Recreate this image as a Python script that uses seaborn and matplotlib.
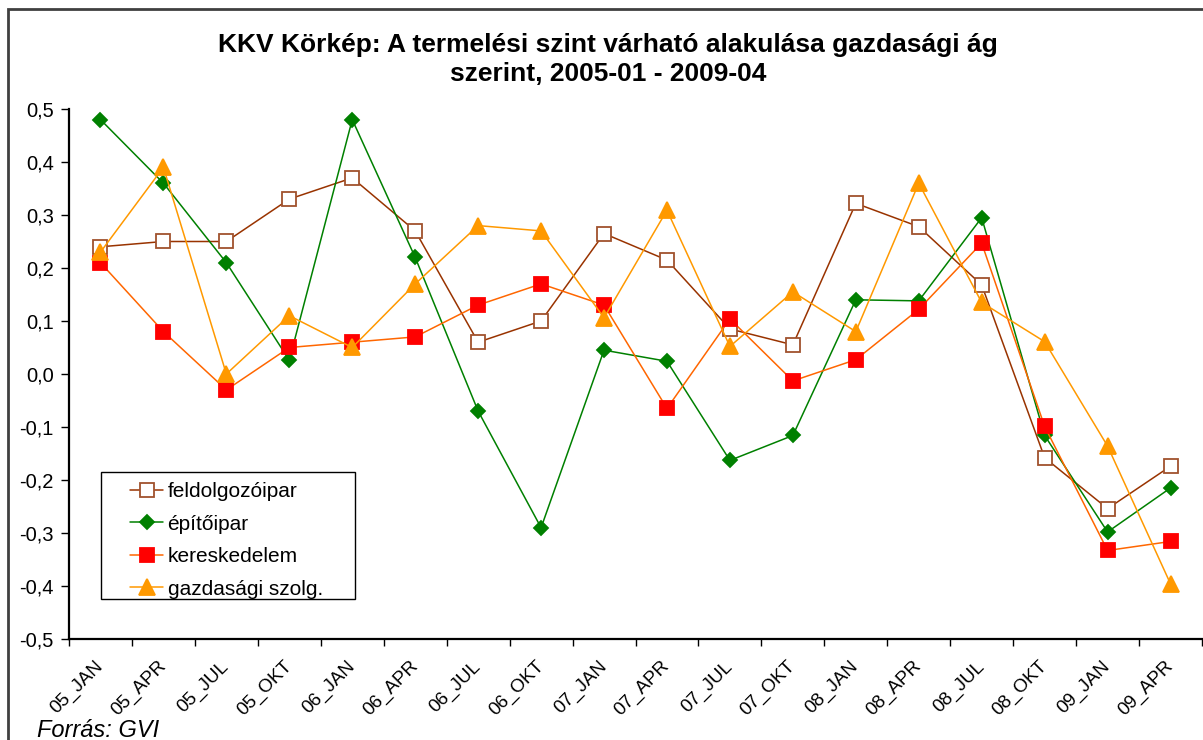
import matplotlib.pyplot as plt
import matplotlib.ticker as mticker
import numpy as np
import pandas as pd
import seaborn as sns
from matplotlib.patches import Rectangle

periods = ["05_JAN", "05_APR", "05_JUL", "05_OKT", "06_JAN", "06_APR", "06_JUL", "06_OKT",
           "07_JAN", "07_APR", "07_JUL", "07_OKT", "08_JAN", "08_APR", "08_JUL", "08_OKT",
           "09_JAN", "09_APR"]

feldolgozoipar = [0.24, 0.25, 0.25, 0.33, 0.37, 0.27, 0.06, 0.10, 0.265, 0.215, 0.085, 0.055,
                  0.322, 0.278, 0.168, -0.158, -0.254, -0.174]
epitoipar = [0.48, 0.36, 0.21, 0.026, 0.48, 0.22, -0.07, -0.29, 0.045, 0.024, -0.163, -0.116,
             0.14, 0.138, 0.295, -0.116, -0.298, -0.215]
kereskedelem = [0.21, 0.08, -0.03, 0.05, 0.06, 0.07, 0.13, 0.17, 0.13, -0.065, 0.104, -0.013,
                0.027, 0.122, 0.247, -0.099, -0.333, -0.316]
gazdasagi_szolg = [0.23, 0.39, 0.0, 0.11, 0.05, 0.17, 0.28, 0.27, 0.106, 0.309, 0.052, 0.155,
                   0.08, 0.36, 0.135, 0.061, -0.136, -0.396]

series = [
    ("feldolgozóipar", feldolgozoipar),
    ("építőipar", epitoipar),
    ("kereskedelem", kereskedelem),
    ("gazdasági szolg.", gazdasagi_szolg),
]

# line colour, marker, marker face, marker edge, marker size
styles = {
    "feldolgozóipar": ("#993300", "s", "white", "#A0522D", 9.5),
    "építőipar": ("#008000", "D", "#008000", "#008000", 7.5),
    "kereskedelem": ("#FF6600", "s", "#FF0000", "#FF0000", 10),
    "gazdasági szolg.": ("#FF9900", "^", "#FF9900", "#FF9900", 11),
}

sns.set_theme(style="white")
plt.rcParams["font.family"] = ["Liberation Sans", "DejaVu Sans"]
plt.rcParams["text.color"] = "black"
plt.rcParams["xtick.color"] = "black"
plt.rcParams["ytick.color"] = "black"

fig = plt.figure(figsize=(12.03, 7.40), dpi=100)
W, H = 1203, 740
ax = fig.add_axes([69 / W, 1 - 639 / H, (1202 - 69) / W, (639 - 109) / H])

pos = np.arange(len(periods))
for name, vals in series:
    df = pd.DataFrame({"pos": pos, "value": vals})
    lc, mk, mfc, mec, ms = styles[name]
    sns.lineplot(data=df, x="pos", y="value", ax=ax, color=lc, marker=mk,
                 markerfacecolor=mfc, markeredgecolor=mec, markersize=ms,
                 markeredgewidth=1.3, linewidth=1.1, label=name)

ax.set_xlim(-0.5, len(periods) - 0.5)
ax.set_ylim(-0.5, 0.5)
ax.yaxis.set_major_locator(mticker.MultipleLocator(0.1))
ax.yaxis.set_major_formatter(mticker.FuncFormatter(
    lambda v, _: f"{v:.1f}".replace(".", ",").replace("-0,0", "0,0")))

# Excel-style category axis: tick marks between categories, labels at centres
ax.set_xticks(np.arange(-0.5, len(periods), 1.0))
ax.set_xticklabels([])
ax.set_xticks(pos, minor=True)
ax.set_xticklabels(periods, minor=True, rotation=45, ha="right", va="center",
                   rotation_mode="anchor", fontsize=13.5)
ax.tick_params(axis="x", which="major", direction="out", length=5, width=1, color="black",
               bottom=True)
ax.tick_params(axis="x", which="minor", length=0, pad=18)
ax.tick_params(axis="y", direction="out", length=6, width=1, color="black", left=True,
               labelsize=14.5, pad=5)
ax.set_xlabel("")
ax.set_ylabel("")
ax.grid(False)
for side in ["top", "right"]:
    ax.spines[side].set_visible(False)
for side in ["left", "bottom"]:
    ax.spines[side].set_color("black")
    ax.spines[side].set_linewidth(1.6)

leg = ax.legend(loc="upper left", bbox_to_anchor=(130 / W, 1 - 482 / H),
                bbox_transform=fig.transFigure, fontsize=15, frameon=False,
                handlelength=1.6, handletextpad=0.2,
                labelspacing=0.65, borderpad=0, borderaxespad=0)
leg.set_zorder(6)
# legend box drawn separately (Excel pads it wider than matplotlib does)
ax.add_patch(Rectangle((101 / W, 1 - 599 / H), 254 / W, 127 / H,
                       transform=fig.transFigure, fill=True, facecolor="white",
                       edgecolor="black", linewidth=1.0, zorder=5, clip_on=False))

fig.text(608 / W, 1 - 45 / H, "KKV Körkép: A termelési szint várható alakulása gazdasági ág",
         ha="center", va="center", fontsize=19, fontweight="bold")
fig.text(608 / W, 1 - 74 / H, "szerint, 2005-01 - 2009-04",
         ha="center", va="center", fontsize=19, fontweight="bold")
fig.text(37 / W, 1 - 737 / H, "Forrás: GVI", ha="left", va="baseline", fontsize=17,
         fontstyle="italic")

fig.patches.append(Rectangle((8 / W, -0.1), 1.2, 1.1 - 9 / H, transform=fig.transFigure,
                             fill=False, edgecolor="#404040", linewidth=2))

fig.savefig("out.png", dpi=100)
